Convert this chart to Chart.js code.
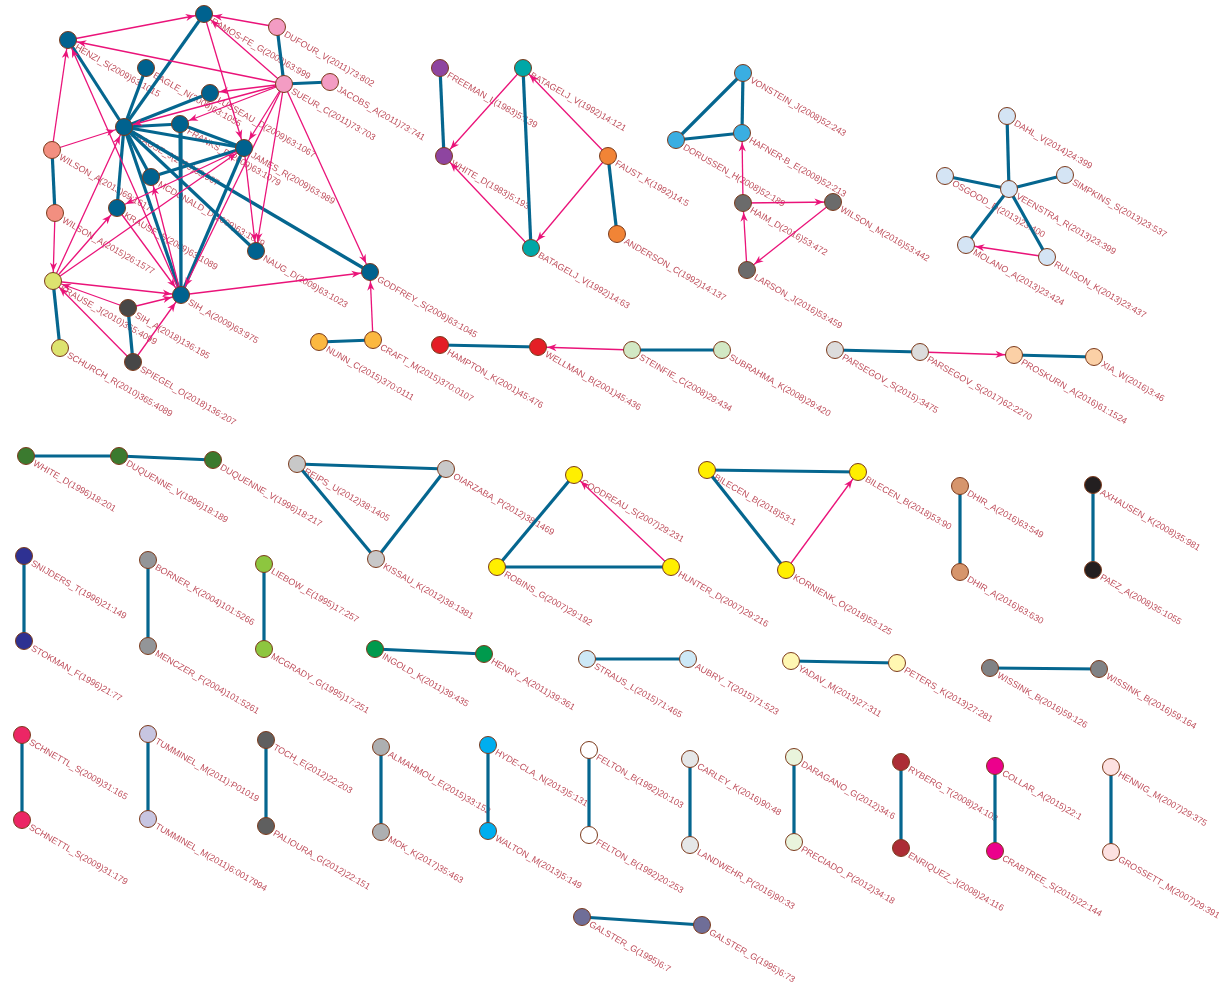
<!DOCTYPE html>
<html>
<head>
<meta charset="utf-8">
<script src="https://cdn.jsdelivr.net/npm/chart.js@4/dist/chart.umd.min.js"></script>
<style>
html,body{margin:0;padding:0;background:#fff;}
#wrap{width:1220px;height:985px;position:relative;}
</style>
</head>
<body>
<div id="wrap"><canvas id="c"></canvas></div>
<script>
// ---- node data ----
const nodeNames = [
 "RAMOS-FE_G(2009)63:999","HENZI_S(2009)63:1015","EAGLE_N(2009)63:1055","LUSSEAU_D(2009)63:1067",
 "KRAUSE_J(2009)63:967","FRANKS_D(2009)63:1079","JAMES_R(2009)63:989","MCDONALD_D(2009)63:1039",
 "KRAUSE_S(2009)63:1089","NAUG_D(2009)63:1023","GODFREY_S(2009)63:1045","SIH_A(2009)63:975",
 "DUFOUR_V(2011)73:802","SUEUR_C(2011)73:703","JACOBS_A(2011)73:741",
 "WILSON_A(2013)69:1617","WILSON_A(2015)26:1577",
 "KRAUSE_J(2010)365:4099","SCHURCH_R(2010)365:4089",
 "SIH_A(2018)136:195","SPIEGEL_O(2018)136:207",
 "NUNN_C(2015)370:0111","CRAFT_M(2015)370:0107",
 "FREEMAN_L(1983)5:139","WHITE_D(1983)5:193",
 "BATAGELJ_V(1992)14:121","BATAGELJ_V(1992)14:63",
 "FAUST_K(1992)14:5","ANDERSON_C(1992)14:137",
 "VONSTEIN_J(2008)52:243","HAFNER-B_E(2008)52:213","DORUSSEN_H(2008)52:189",
 "HAIM_D(2016)53:472","WILSON_M(2016)53:442","LARSON_J(2016)53:459",
 "DAHL_V(2014)24:399","OSGOOD_D(2013)23:400","VEENSTRA_R(2013)23:399","SIMPKINS_S(2013)23:537",
 "MOLANO_A(2013)23:424","RULISON_K(2013)23:437",
 "HAMPTON_K(2001)45:476","WELLMAN_B(2001)45:436",
 "STEINFIE_C(2008)29:434","SUBRAHMA_K(2008)29:420",
 "PARSEGOV_S(2015):3475","PARSEGOV_S(2017)62:2270",
 "PROSKURN_A(2016)61:1524","XIA_W(2016)3:46",
 "WHITE_D(1996)18:201","DUQUENNE_V(1996)18:189","DUQUENNE_V(1996)18:217",
 "REIPS_U(2012)38:1405","OIARZABA_P(2012)38:1469","KISSAU_K(2012)38:1381",
 "GOODREAU_S(2007)29:231","ROBINS_G(2007)29:192","HUNTER_D(2007)29:216",
 "BILECEN_B(2018)53:1","BILECEN_B(2018)53:90","KORNIENK_O(2018)53:125",
 "DHIR_A(2016)63:549","DHIR_A(2016)63:630",
 "AXHAUSEN_K(2008)35:981","PAEZ_A(2008)35:1055",
 "SNIJDERS_T(1996)21:149","STOKMAN_F(1996)21:77",
 "BORNER_K(2004)101:5266","MENCZER_F(2004)101:5261",
 "LIEBOW_E(1995)17:257","MCGRADY_G(1995)17:251",
 "INGOLD_K(2011)39:435","HENRY_A(2011)39:361",
 "STRAUS_L(2015)71:465","AUBRY_T(2015)71:523",
 "YADAV_M(2013)27:311","PETERS_K(2013)27:281",
 "WISSINK_B(2016)59:126","WISSINK_B(2016)59:164",
 "SCHNETTL_S(2009)31:165","SCHNETTL_S(2009)31:179",
 "TUMMINEL_M(2011):P01019","TUMMINEL_M(2011)6:0017994",
 "TOCH_E(2012)22:203","PALIOURA_G(2012)22:151",
 "ALMAHMOU_E(2015)33:152","MOK_K(2017)35:463",
 "HYDE-CLA_N(2013)5:131","WALTON_M(2013)5:149",
 "FELTON_B(1992)20:103","FELTON_B(1992)20:253",
 "CARLEY_K(2016)90:48","LANDWEHR_P(2016)90:33",
 "DARAGANO_G(2012)34:6","PRECIADO_P(2012)34:18",
 "RYBERG_T(2008)24:103","ENRIQUEZ_J(2008)24:116",
 "COLLAR_A(2015)22:1","CRABTREE_S(2015)22:144",
 "HENNIG_M(2007)29:375","GROSSETT_M(2007)29:391",
 "GALSTER_G(1995)6:7","GALSTER_G(1995)6:73"
];
const nodeX = [
 204,68,146,210,124,180,244,151,117,256,370,181,
 277,284,330, 52,55, 53,60, 128,133, 319,373,
 440,444, 523,531, 608,617,
 743,742,676, 743,833,747,
 1007,945,1009,1065,966,1047,
 440,538,632,722, 835,920,1014,1094,
 26,119,213, 297,446,376, 574,497,671, 707,858,786,
 960,960,1093,1093,
 24,24,148,148,264,264,375,484,587,688,791,897,990,1099,
 22,22,148,148,266,266,381,381,488,488,589,589,690,690,794,794,901,901,995,995,1111,1111,
 582,702
];
const nodeY = [
 14,40,68,93,127,124,148,177,208,251,272,295,
 27,84,82, 150,213, 281,348, 308,362, 342,340,
 68,156, 68,248, 156,234,
 73,133,140, 203,202,270,
 116,176,189,175,245,257,
 345,347,350,350, 350,352,355,357,
 456,456,460, 464,469,559, 475,567,567, 470,472,570,
 486,572,485,570,
 556,641,560,646,564,649,649,654,659,659,661,663,668,669,
 735,820,734,819,740,826,747,832,745,831,750,835,759,845,757,842,762,848,766,851,767,852,
 917,925
];
const nodeColors = [
 "#00628f","#00628f","#00628f","#00628f","#00628f","#00628f","#00628f","#00628f","#00628f","#00628f","#00628f","#00628f",
 "#f39cc3","#f39cc3","#f39cc3", "#f28f80","#f28f80", "#dde36f","#dde36f", "#474747","#474747", "#fbb840","#fbb840",
 "#8e45a0","#8e45a0", "#00a7a7","#00a7a7", "#f18436","#f18436",
 "#3aaee2","#3aaee2","#3aaee2", "#6b6b6b","#6b6b6b","#6b6b6b",
 "#d4e4f4","#d4e4f4","#d4e4f4","#d4e4f4","#d4e4f4","#d4e4f4",
 "#e41e26","#e41e26","#d2e8c4","#d2e8c4", "#dcdcdc","#dcdcdc","#fbd0a6","#fbd0a6",
 "#3b7a2f","#3b7a2f","#3b7a2f", "#c8c8c8","#c8c8c8","#c8c8c8", "#ffef00","#ffef00","#ffef00", "#ffef00","#ffef00","#ffef00",
 "#d6956c","#d6956c","#231f20","#231f20",
 "#2e3192","#2e3192","#939598","#939598","#8dc63f","#8dc63f","#009a4d","#009a4d","#cde8f6","#cde8f6",
 "#fff7b2","#fff7b2","#808285","#808285",
 "#ec2665","#ec2665","#c7c5e1","#c7c5e1","#5f5f5f","#5f5f5f","#adafb1","#adafb1","#00aeef","#00aeef",
 "#ffffff","#ffffff","#e5e7e8","#e5e7e8","#e9f4dc","#e9f4dc","#ac2d35","#ac2d35","#ec008c","#ec008c","#fde1e1","#fde1e1",
 "#6f6e98","#6f6e98"
];
// ---- undirected (co-citation) edges ----
const edgeFrom = [
 "KRAUSE_J(2009)63:967","KRAUSE_J(2009)63:967","KRAUSE_J(2009)63:967","KRAUSE_J(2009)63:967","KRAUSE_J(2009)63:967",
 "KRAUSE_J(2009)63:967","KRAUSE_J(2009)63:967","KRAUSE_J(2009)63:967","KRAUSE_J(2009)63:967","KRAUSE_J(2009)63:967",
 "KRAUSE_J(2009)63:967","FRANKS_D(2009)63:1079","FRANKS_D(2009)63:1079","JAMES_R(2009)63:989","JAMES_R(2009)63:989",
 "DUFOUR_V(2011)73:802","SUEUR_C(2011)73:703","WILSON_A(2013)69:1617","KRAUSE_J(2010)365:4099","SIH_A(2018)136:195",
 "NUNN_C(2015)370:0111",
 "FREEMAN_L(1983)5:139","BATAGELJ_V(1992)14:121","FAUST_K(1992)14:5",
 "VONSTEIN_J(2008)52:243","VONSTEIN_J(2008)52:243","DORUSSEN_H(2008)52:189",
 "VEENSTRA_R(2013)23:399","VEENSTRA_R(2013)23:399","VEENSTRA_R(2013)23:399","VEENSTRA_R(2013)23:399","VEENSTRA_R(2013)23:399",
 "HAMPTON_K(2001)45:476","STEINFIE_C(2008)29:434","PARSEGOV_S(2015):3475","PROSKURN_A(2016)61:1524",
 "WHITE_D(1996)18:201","DUQUENNE_V(1996)18:189",
 "REIPS_U(2012)38:1405","OIARZABA_P(2012)38:1469","KISSAU_K(2012)38:1381",
 "ROBINS_G(2007)29:192","ROBINS_G(2007)29:192",
 "BILECEN_B(2018)53:1","BILECEN_B(2018)53:1",
 "DHIR_A(2016)63:549","AXHAUSEN_K(2008)35:981",
 "SNIJDERS_T(1996)21:149","BORNER_K(2004)101:5266","LIEBOW_E(1995)17:257","INGOLD_K(2011)39:435",
 "STRAUS_L(2015)71:465","YADAV_M(2013)27:311","WISSINK_B(2016)59:126",
 "SCHNETTL_S(2009)31:165","TUMMINEL_M(2011):P01019","TOCH_E(2012)22:203","ALMAHMOU_E(2015)33:152",
 "HYDE-CLA_N(2013)5:131","FELTON_B(1992)20:103","CARLEY_K(2016)90:48","DARAGANO_G(2012)34:6",
 "RYBERG_T(2008)24:103","COLLAR_A(2015)22:1","HENNIG_M(2007)29:375","GALSTER_G(1995)6:7"
];
const edgeTo = [
 "HENZI_S(2009)63:1015","RAMOS-FE_G(2009)63:999","EAGLE_N(2009)63:1055","LUSSEAU_D(2009)63:1067","FRANKS_D(2009)63:1079",
 "JAMES_R(2009)63:989","MCDONALD_D(2009)63:1039","KRAUSE_S(2009)63:1089","SIH_A(2009)63:975","NAUG_D(2009)63:1023",
 "GODFREY_S(2009)63:1045","SIH_A(2009)63:975","JAMES_R(2009)63:989","MCDONALD_D(2009)63:1039","SIH_A(2009)63:975",
 "SUEUR_C(2011)73:703","JACOBS_A(2011)73:741","WILSON_A(2015)26:1577","SCHURCH_R(2010)365:4089","SPIEGEL_O(2018)136:207",
 "CRAFT_M(2015)370:0107",
 "WHITE_D(1983)5:193","BATAGELJ_V(1992)14:63","ANDERSON_C(1992)14:137",
 "HAFNER-B_E(2008)52:213","DORUSSEN_H(2008)52:189","HAFNER-B_E(2008)52:213",
 "DAHL_V(2014)24:399","OSGOOD_D(2013)23:400","SIMPKINS_S(2013)23:537","MOLANO_A(2013)23:424","RULISON_K(2013)23:437",
 "WELLMAN_B(2001)45:436","SUBRAHMA_K(2008)29:420","PARSEGOV_S(2017)62:2270","XIA_W(2016)3:46",
 "DUQUENNE_V(1996)18:189","DUQUENNE_V(1996)18:217",
 "OIARZABA_P(2012)38:1469","KISSAU_K(2012)38:1381","REIPS_U(2012)38:1405",
 "GOODREAU_S(2007)29:231","HUNTER_D(2007)29:216",
 "BILECEN_B(2018)53:90","KORNIENK_O(2018)53:125",
 "DHIR_A(2016)63:630","PAEZ_A(2008)35:1055",
 "STOKMAN_F(1996)21:77","MENCZER_F(2004)101:5261","MCGRADY_G(1995)17:251","HENRY_A(2011)39:361",
 "AUBRY_T(2015)71:523","PETERS_K(2013)27:281","WISSINK_B(2016)59:164",
 "SCHNETTL_S(2009)31:179","TUMMINEL_M(2011)6:0017994","PALIOURA_G(2012)22:151","MOK_K(2017)35:463",
 "WALTON_M(2013)5:149","FELTON_B(1992)20:253","LANDWEHR_P(2016)90:33","PRECIADO_P(2012)34:18",
 "ENRIQUEZ_J(2008)24:116","CRABTREE_S(2015)22:144","GROSSETT_M(2007)29:391","GALSTER_G(1995)6:73"
];
// ---- directed (citation) arrows ----
const arrowFrom = [
 "HENZI_S(2009)63:1015","SUEUR_C(2011)73:703","DUFOUR_V(2011)73:802","SUEUR_C(2011)73:703","RAMOS-FE_G(2009)63:999",
 "SUEUR_C(2011)73:703","SUEUR_C(2011)73:703","SUEUR_C(2011)73:703","SUEUR_C(2011)73:703","SUEUR_C(2011)73:703",
 "SUEUR_C(2011)73:703","SUEUR_C(2011)73:703","WILSON_A(2013)69:1617","WILSON_A(2013)69:1617","WILSON_A(2015)26:1577",
 "KRAUSE_J(2010)365:4099","KRAUSE_J(2010)365:4099","KRAUSE_J(2010)365:4099","KRAUSE_J(2010)365:4099",
 "SIH_A(2018)136:195","SIH_A(2018)136:195","SPIEGEL_O(2018)136:207","SPIEGEL_O(2018)136:207",
 "SIH_A(2009)63:975","CRAFT_M(2015)370:0107","KRAUSE_S(2009)63:1089","SIH_A(2009)63:975","SIH_A(2009)63:975",
 "JAMES_R(2009)63:989","JAMES_R(2009)63:989",
 "BATAGELJ_V(1992)14:121","BATAGELJ_V(1992)14:63","FAUST_K(1992)14:5","FAUST_K(1992)14:5",
 "HAIM_D(2016)53:472","HAIM_D(2016)53:472","WILSON_M(2016)53:442","LARSON_J(2016)53:459",
 "RULISON_K(2013)23:437","STEINFIE_C(2008)29:434","PARSEGOV_S(2017)62:2270",
 "HUNTER_D(2007)29:216","KORNIENK_O(2018)53:125"
];
const arrowTo = [
 "RAMOS-FE_G(2009)63:999","HENZI_S(2009)63:1015","RAMOS-FE_G(2009)63:999","RAMOS-FE_G(2009)63:999","JAMES_R(2009)63:989",
 "LUSSEAU_D(2009)63:1067","KRAUSE_J(2009)63:967","FRANKS_D(2009)63:1079","JAMES_R(2009)63:989","NAUG_D(2009)63:1023",
 "GODFREY_S(2009)63:1045","SIH_A(2009)63:975","KRAUSE_J(2009)63:967","HENZI_S(2009)63:1015","KRAUSE_J(2010)365:4099",
 "KRAUSE_S(2009)63:1089","JAMES_R(2009)63:989","KRAUSE_J(2009)63:967","SIH_A(2009)63:975",
 "SIH_A(2009)63:975","KRAUSE_J(2010)365:4099","KRAUSE_J(2010)365:4099","SIH_A(2009)63:975",
 "GODFREY_S(2009)63:1045","GODFREY_S(2009)63:1045","SIH_A(2009)63:975","MCDONALD_D(2009)63:1039","HENZI_S(2009)63:1015",
 "NAUG_D(2009)63:1023","KRAUSE_S(2009)63:1089",
 "WHITE_D(1983)5:193","WHITE_D(1983)5:193","BATAGELJ_V(1992)14:121","BATAGELJ_V(1992)14:63",
 "HAFNER-B_E(2008)52:213","WILSON_M(2016)53:442","LARSON_J(2016)53:459","HAIM_D(2016)53:472",
 "MOLANO_A(2013)23:424","WELLMAN_B(2001)45:436","PROSKURN_A(2016)61:1524",
 "GOODREAU_S(2007)29:231","BILECEN_B(2018)53:90"
];

// ---- build chart ----
const idx = n => nodeNames.indexOf(n);
const pt = n => ({x: nodeX[idx(n)], y: nodeY[idx(n)]});
const BLUE = "#05668f", PINK = "#ea1379", LABEL = "#bf4f5c", NODE_R = 8.5;

const datasets = [];
edgeFrom.forEach((f, i) => datasets.push({
  type: 'scatter', data: [pt(f), pt(edgeTo[i])], showLine: true,
  borderColor: BLUE, borderWidth: 3.2, pointRadius: 0, order: 3, clip: false
}));
arrowFrom.forEach((f, i) => datasets.push({
  type: 'scatter', data: [pt(f), pt(arrowTo[i])], showLine: true, isArrow: true,
  borderColor: PINK, borderWidth: 1.3, pointRadius: 0, order: 2, clip: false
}));
datasets.push({
  type: 'scatter', label: 'nodes', isNodes: true, clip: false,
  data: nodeNames.map((n, i) => ({x: nodeX[i], y: nodeY[i]})),
  pointRadius: NODE_R, pointBackgroundColor: nodeColors,
  pointBorderColor: "#7b3a1c", pointBorderWidth: 1, order: 0
});

const graphPlugin = {
  id: 'graph',
  beforeDatasetsDraw(chart) {
    const ctx = chart.ctx, xs = chart.scales.x, ys = chart.scales.y;
    ctx.save();
    ctx.fillStyle = LABEL;
    ctx.font = '9px "Liberation Sans", Arial, sans-serif';
    ctx.textBaseline = 'middle';
    nodeNames.forEach((n, i) => {
      ctx.save();
      ctx.translate(xs.getPixelForValue(nodeX[i]), ys.getPixelForValue(nodeY[i]));
      ctx.rotate(Math.PI / 6);
      ctx.fillText(n, 10, 2);
      ctx.restore();
    });
    ctx.restore();
  },
  afterDatasetDraw(chart, args) {
    const ds = chart.data.datasets[args.index];
    if (!ds.isArrow) return;
    const ctx = chart.ctx, xs = chart.scales.x, ys = chart.scales.y;
    const a = ds.data[0], b = ds.data[1];
    const x1 = xs.getPixelForValue(a.x), y1 = ys.getPixelForValue(a.y);
    const x2 = xs.getPixelForValue(b.x), y2 = ys.getPixelForValue(b.y);
    const ang = Math.atan2(y2 - y1, x2 - x1);
    const tx = x2 - Math.cos(ang) * (NODE_R + 1), ty = y2 - Math.sin(ang) * (NODE_R + 1);
    const L = 9, W = 3.6;
    ctx.save();
    ctx.fillStyle = PINK;
    ctx.beginPath();
    ctx.moveTo(tx, ty);
    ctx.lineTo(tx - Math.cos(ang) * L - Math.sin(ang) * W, ty - Math.sin(ang) * L + Math.cos(ang) * W);
    ctx.lineTo(tx - Math.cos(ang) * L * 0.7, ty - Math.sin(ang) * L * 0.7);
    ctx.lineTo(tx - Math.cos(ang) * L + Math.sin(ang) * W, ty - Math.sin(ang) * L - Math.cos(ang) * W);
    ctx.closePath();
    ctx.fill();
    ctx.restore();
  }
};

new Chart(document.getElementById('c'), {
  data: { datasets },
  options: {
    responsive: true, maintainAspectRatio: false, animation: false, events: [],
    layout: { padding: 0, autoPadding: false },
    plugins: { legend: { display: false }, tooltip: { enabled: false } },
    scales: {
      x: { type: 'linear', min: 0, max: 1220, display: false },
      y: { type: 'linear', min: 0, max: 985, reverse: true, display: false }
    }
  },
  plugins: [graphPlugin]
});
</script>
</body>
</html>
